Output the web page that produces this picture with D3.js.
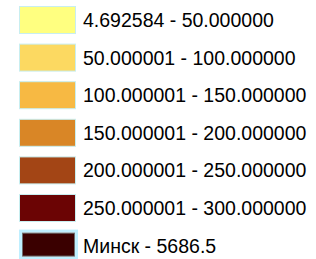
<!DOCTYPE html>
<html><head><meta charset="utf-8">
<script src="https://cdn.jsdelivr.net/npm/d3@7"></script>
<style>html,body{margin:0;padding:0;background:#fff;}</style>
</head><body>
<svg id="c" width="316" height="259"></svg>
<script>
const labels = ["4.692584 - 50.000000","50.000001 - 100.000000","100.000001 - 150.000000","150.000001 - 200.000000","200.000001 - 250.000000","250.000001 - 300.000000","Минск - 5686.5"];
const colors = ["#FFFF80","#FCD961","#F7B943","#D98626","#A34515","#6B0404","#3A0000"];
const highlight = [false,false,false,false,false,false,true];

const svg = d3.select("#c");
const y = d3.scaleBand().domain(d3.range(labels.length)).range([6, 6 + 37.6*labels.length]).paddingInner(0);
const g = svg.selectAll("g.row").data(labels).join("g").attr("class","row")
  .attr("transform",(d,i)=>`translate(0,${y(i)})`);
g.filter((d,i)=>highlight[i]).append("rect")
  .attr("x",20.5).attr("y",-0.5).attr("width",56).attr("height",27)
  .attr("fill","none").attr("stroke","#BFEFFF").attr("stroke-width",3);
g.append("rect")
  .attr("x",(d,i)=>highlight[i]?22.5:19.5).attr("y",(d,i)=>highlight[i]?1.5:0.5)
  .attr("width",(d,i)=>highlight[i]?52:56).attr("height",(d,i)=>highlight[i]?23:27)
  .attr("fill",(d,i)=>colors[i])
  .attr("stroke",(d,i)=>highlight[i]?"#6e6e6e":"#C8EEF0").attr("stroke-width",1);
g.append("text").attr("x",83).attr("y",21)
  .attr("font-family","Liberation Sans, Arial, sans-serif").attr("font-size",19.5)
  .attr("fill","#000").text(d=>d);
</script>
</body></html>
